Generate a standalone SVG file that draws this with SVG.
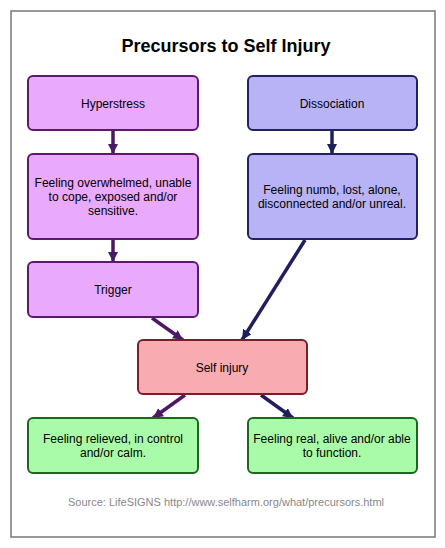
<svg xmlns="http://www.w3.org/2000/svg" width="445" height="548" viewBox="0 0 445 548">
<style>
text{font-family:"Liberation Sans",Arial,sans-serif;font-size:12px;fill:#000;text-anchor:middle}
.title{font-size:18px;font-weight:bold}
.src{font-size:11px;fill:#888}
.box{stroke-width:2}
.pu{fill:#e9a9fc;stroke:#5b1a6b}
.bl{fill:#b8b3f6;stroke:#222260}
.pk{fill:#f8abb1;stroke:#7a1e2a}
.gr{fill:#aafba9;stroke:#1d661d}
.cp{stroke:#4b1a66;stroke-width:3.5;fill:none}
.cb{stroke:#1f1f5c;stroke-width:3.5;fill:none}
</style>
<defs>
<marker id="ap" markerWidth="10" markerHeight="10" viewBox="0 0 10 10" refX="10" refY="5" orient="auto" markerUnits="userSpaceOnUse"><path d="M0,0 L10,5 L0,10 z" fill="#4b1a66"/></marker>
<marker id="ab" markerWidth="10" markerHeight="10" viewBox="0 0 10 10" refX="10" refY="5" orient="auto" markerUnits="userSpaceOnUse"><path d="M0,0 L10,5 L0,10 z" fill="#1f1f5c"/></marker>
</defs>
<rect x="0" y="0" width="445" height="548" fill="#fff"/>
<rect x="11" y="11" width="424" height="526" fill="#fff" stroke="#777" stroke-width="1.5"/>
<text class="title" x="226" y="52">Precursors to Self Injury</text>
<g id="connectors">
<line class="cp" x1="113" y1="131" x2="113" y2="154" marker-end="url(#ap)"/>
<line class="cb" x1="332" y1="131" x2="332" y2="154" marker-end="url(#ab)"/>
<line class="cp" x1="113" y1="240" x2="113" y2="262" marker-end="url(#ap)"/>
<line class="cp" x1="152" y1="318" x2="183" y2="340" marker-end="url(#ap)"/>
<line class="cb" x1="305" y1="240" x2="242" y2="340" marker-end="url(#ab)"/>
<line class="cp" x1="185" y1="395" x2="153" y2="418" marker-end="url(#ap)"/>
<line class="cb" x1="261" y1="395" x2="293" y2="418" marker-end="url(#ab)"/>
</g>
<g id="hyperstress"><rect class="box pu" x="28" y="76" width="170" height="54" rx="5"/><text x="113" y="108">Hyperstress</text></g>
<g id="dissociation"><rect class="box bl" x="248" y="76" width="169" height="54" rx="5"/><text x="332" y="108">Dissociation</text></g>
<g id="overwhelmed"><rect class="box pu" x="28" y="154" width="170" height="85" rx="5"/><text x="113" y="187">Feeling overwhelmed, unable</text><text x="113" y="201">to cope, exposed and/or</text><text x="113" y="215">sensitive.</text></g>
<g id="numb"><rect class="box bl" x="248" y="154" width="169" height="85" rx="5"/><text x="332" y="194">Feeling numb, lost, alone,</text><text x="332" y="208">disconnected and/or unreal.</text></g>
<g id="trigger"><rect class="box pu" x="28" y="262" width="170" height="55" rx="5"/><text x="113" y="294">Trigger</text></g>
<g id="selfinjury"><rect class="box pk" x="138" y="340" width="169" height="54" rx="5"/><text x="222" y="372">Self injury</text></g>
<g id="relieved"><rect class="box gr" x="28" y="418" width="170" height="55" rx="5"/><text x="113" y="443">Feeling relieved, in control</text><text x="113" y="457">and/or calm.</text></g>
<g id="real"><rect class="box gr" x="248" y="418" width="169" height="55" rx="5"/><text x="332" y="443">Feeling real, alive and/or able</text><text x="332" y="457">to function.</text></g>
<text class="src" x="226" y="506">Source: LifeSIGNS http://www.selfharm.org/what/precursors.html</text>
</svg>
